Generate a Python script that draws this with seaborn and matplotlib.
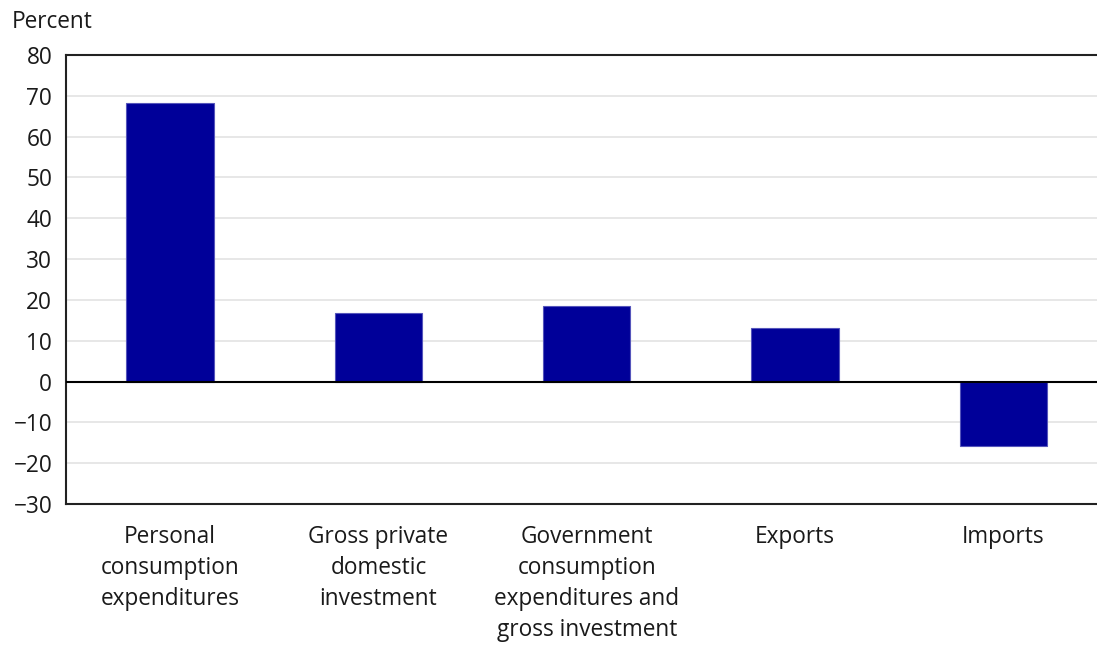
import matplotlib
matplotlib.use("Agg")
import matplotlib.pyplot as plt
import seaborn as sns
import pandas as pd

# --- Data ---
categories = [
    "Personal\nconsumption\nexpenditures",
    "Gross private\ndomestic\ninvestment",
    "Government\nconsumption\nexpenditures and\ngross investment",
    "Exports",
    "Imports",
]
shares = [68.3, 16.9, 18.4, 13.1, -15.8]
y_ticks = [-30, -20, -10, 0, 10, 20, 30, 40, 50, 60, 70, 80]

df = pd.DataFrame({"category": categories, "share": shares})

sns.set_style("white")
plt.rcParams["font.family"] = ["Open Sans", "DejaVu Sans"]

FS = 16.3
TXT = "#1a1a1a"

fig = plt.figure(figsize=(10.97, 6.46), dpi=100)
ax = fig.add_axes([0.0602, 0.2198, 0.9398, 0.6951])

sns.barplot(data=df, x="category", y="share", color="#000099",
            width=0.42, edgecolor="#5555bb", linewidth=0.8,
            saturation=1, ax=ax, zorder=3)

ax.set_ylim(-30, 80)
ax.set_xlim(-0.5, 4.45)
ax.set_yticks(y_ticks)
ax.set_yticklabels([str(t).replace("-", "\u2212") for t in y_ticks])
ax.yaxis.grid(True, color="#e3e3e3", linewidth=1.2, zorder=0)
ax.set_axisbelow(True)
ax.axhline(0, color="black", linewidth=1.5, zorder=4)

ax.tick_params(axis="y", length=0, pad=10, labelsize=FS, colors=TXT)
ax.tick_params(axis="x", length=0, pad=15, labelsize=FS, colors=TXT)
ax.set_xlabel("")
ax.set_ylabel("")
for lbl in ax.get_xticklabels():
    lbl.set_linespacing(1.4)
    lbl.set_verticalalignment("top")

for side in ["left", "top", "bottom"]:
    ax.spines[side].set_color("#222222")
    ax.spines[side].set_linewidth(1.5)
ax.spines["right"].set_visible(False)

fig.text(0.011, 0.966, "Percent", fontsize=FS, color=TXT, va="center", ha="left")

fig.savefig("out.png", dpi=100)
